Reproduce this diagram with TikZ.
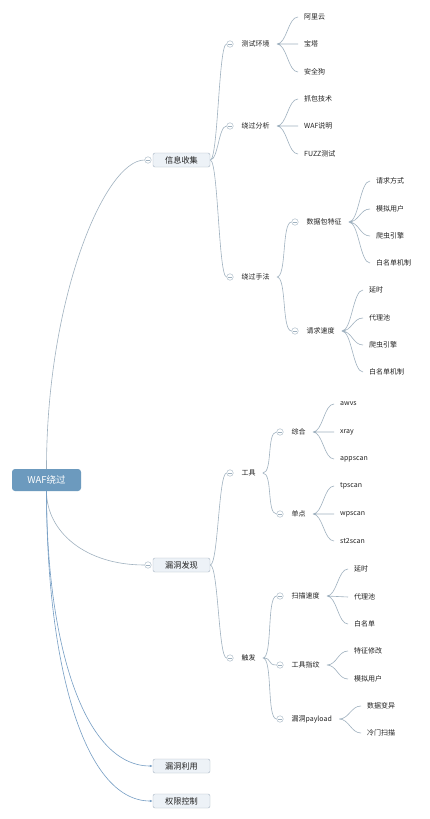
\documentclass[tikz,border=0pt]{standalone}
\usepackage{fontspec}
\setmainfont{Noto Sans CJK SC}
\usetikzlibrary{positioning,arrows.meta}

\definecolor{rootblue}{RGB}{108,154,190}
\definecolor{boxfill}{RGB}{237,242,247}
\definecolor{boxline}{RGB}{168,182,196}
\definecolor{linkgray}{RGB}{160,178,192}
\definecolor{linkblue}{RGB}{118,158,196}
\definecolor{txt}{RGB}{34,34,34}

\begin{document}
\begin{tikzpicture}[x=1pt,y=-1pt,
	root/.style={rectangle,rounded corners=3pt,fill=rootblue,text=white,minimum width=69pt,minimum height=22pt,inner sep=0pt,font=\fontsize{9.5}{11}\selectfont},
	topic/.style={rectangle,rounded corners=2pt,draw=boxline,fill=boxfill,text=txt,minimum width=57pt,minimum height=14pt,inner sep=0pt,font=\fontsize{8.2}{9}\selectfont},
	sub/.style={inner xsep=7pt,inner ysep=1pt,text=txt,font=\fontsize{7}{8}\selectfont},
	leaf/.style={anchor=west,inner xsep=6pt,inner ysep=1pt,text=txt,font=\fontsize{7}{8}\selectfont},
	fold/.style={circle,draw=linkgray,fill=white,minimum size=6.5pt,inner sep=0pt,
		path picture={\draw[linkgray] ([xshift=1.4pt]path picture bounding box.west) -- ([xshift=-1.4pt]path picture bounding box.east);}},
	link/.style={draw=linkgray,line width=0.6pt,to path={.. controls +(#1,0) and +(-#1,0) .. (\tikztotarget)}},
	link/.default=10,
	mainlink/.style={draw=linkgray,line width=0.6pt},
	pointer/.style={draw=linkblue,line width=0.6pt,-{Latex[length=3pt,width=2.5pt]}}]
	\fill[white] (0,0) rectangle (430,819);
	\useasboundingbox (0,0) rectangle (430,819);

	% root and main topics
	\node[root] (waf) at (46.5,480) {WAF绕过};
	\node[topic] (info) at (181.5,160) {信息收集};
	\node[topic] (vuln) at (181.5,565) {漏洞发现};
	\node[topic] (use) at (181.5,766) {漏洞利用};
	\node[topic] (perm) at (181.5,801) {权限控制};
	\node[fold] (finfo) at (148,160) {};
	\node[fold] (fvuln) at (148,565) {};
	\draw[mainlink] (waf.north) .. controls +(0,-170) and +(-40,0) .. (finfo.west);
	\draw[mainlink] (waf.south) .. controls +(0,40) and +(-60,0) .. (fvuln.west);
	\draw[pointer] (waf.south) .. controls +(0,150) and +(-70,0) .. (use.west);
	\draw[pointer] (waf.south) .. controls +(0,170) and +(-70,0) .. (perm.west);

	% 信息收集
	\node[fold] (fenv) at (230,44) {};
	\node[sub,right=1pt of fenv] (env) {测试环境};
	\node[fold] (fana) at (230,126) {};
	\node[sub,right=1pt of fana] (ana) {绕过分析};
	\node[fold] (fway) at (230,277) {};
	\node[sub,right=1pt of fway] (way) {绕过手法};
	\draw[link=8] (info.east) to (fenv.west) (info.east) to (fana.west) (info.east) to (fway.west);

	\node[leaf] (ali) at (298,17) {阿里云};
	\node[leaf] (bt) at (298,44) {宝塔};
	\node[leaf] (aqg) at (298,72) {安全狗};
	\draw[link] (env.east) to (ali.west) (env.east) to (bt.west) (env.east) to (aqg.west);

	\node[leaf] (zb) at (298,99) {抓包技术};
	\node[leaf] (sm) at (298,126) {WAF说明};
	\node[leaf] (fuzz) at (298,154) {FUZZ测试};
	\draw[link] (ana.east) to (zb.west) (ana.east) to (sm.west) (ana.east) to (fuzz.west);

	\node[fold] (fpkt) at (295,222) {};
	\node[sub,right=1pt of fpkt] (pkt) {数据包特征};
	\node[fold] (frate) at (295,331) {};
	\node[sub,right=1pt of frate] (rate) {请求速度};
	\draw[link] (way.east) to (fpkt.west) (way.east) to (frate.west);

	\node[leaf] (pkt1) at (370,181) {请求方式};
	\node[leaf] (pkt2) at (370,209) {模拟用户};
	\node[leaf] (pkt3) at (370,236) {爬虫引擎};
	\node[leaf] (pkt4) at (370,263) {白名单机制};
	\draw[link] (pkt.east) to (pkt1.west) (pkt.east) to (pkt2.west) (pkt.east) to (pkt3.west) (pkt.east) to (pkt4.west);

	\node[leaf] (rate1) at (363,290) {延时};
	\node[leaf] (rate2) at (363,318) {代理池};
	\node[leaf] (rate3) at (363,345) {爬虫引擎};
	\node[leaf] (rate4) at (363,372) {白名单机制};
	\draw[link] (rate.east) to (rate1.west) (rate.east) to (rate2.west) (rate.east) to (rate3.west) (rate.east) to (rate4.west);

	% 漏洞发现
	\node[fold] (ftool) at (230,473) {};
	\node[sub,right=1pt of ftool] (tool) {工具};
	\node[fold] (ftrig) at (230,658) {};
	\node[sub,right=1pt of ftrig] (trig) {触发};
	\draw[link=8] (vuln.east) to (ftool.west) (vuln.east) to (ftrig.west);

	\node[fold] (fall) at (280,432) {};
	\node[sub,right=1pt of fall] (all) {综合};
	\node[fold] (fone) at (280,514) {};
	\node[sub,right=1pt of fone] (one) {单点};
	\draw[link] (tool.east) to (fall.west) (tool.east) to (fone.west);

	\node[leaf] (awvs) at (334,404) {awvs};
	\node[leaf] (xray) at (334,432) {xray};
	\node[leaf] (apps) at (334,459) {appscan};
	\draw[link] (all.east) to (awvs.west) (all.east) to (xray.west) (all.east) to (apps.west);

	\node[leaf] (tps) at (334,486) {tpscan};
	\node[leaf] (wps) at (334,514) {wpscan};
	\node[leaf] (st2) at (334,541) {st2scan};
	\draw[link] (one.east) to (tps.west) (one.east) to (wps.west) (one.east) to (st2.west);

	\node[fold] (fscan) at (280,596) {};
	\node[sub,right=1pt of fscan] (scan) {扫描速度};
	\node[fold] (ffp) at (280,665) {};
	\node[sub,right=1pt of ffp] (fp) {工具指纹};
	\node[fold] (fpay) at (280,719) {};
	\node[sub,right=1pt of fpay] (pay) {漏洞payload};
	\draw[link] (trig.east) to (fscan.west) (trig.east) to (ffp.west) (trig.east) to (fpay.west);

	\node[leaf] (scan1) at (348,569) {延时};
	\node[leaf] (scan2) at (348,597) {代理池};
	\node[leaf] (scan3) at (348,624) {白名单};
	\draw[link] (scan.east) to (scan1.west) (scan.east) to (scan2.west) (scan.east) to (scan3.west);

	\node[leaf] (fp1) at (348,651) {特征修改};
	\node[leaf] (fp2) at (348,679) {模拟用户};
	\draw[link] (fp.east) to (fp1.west) (fp.east) to (fp2.west);

	\node[leaf] (pay1) at (361,706) {数据变异};
	\node[leaf] (pay2) at (361,733) {冷门扫描};
	\draw[link] (pay.east) to (pay1.west) (pay.east) to (pay2.west);
\end{tikzpicture}
\end{document}
